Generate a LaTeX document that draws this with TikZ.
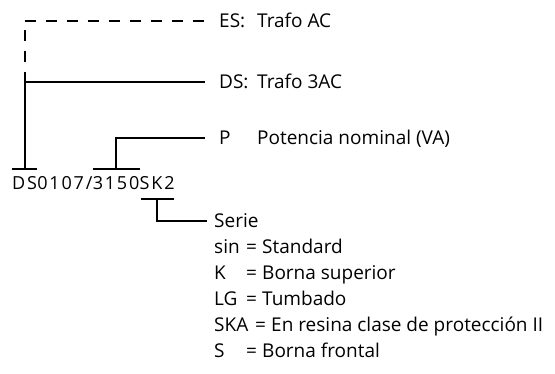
\documentclass[tikz,border=0pt]{standalone}
\usepackage{fontspec}
\setmainfont{Open Sans}
\newfontfamily\codefont[LetterSpace=10]{Open Sans}
\usetikzlibrary{positioning}
\tikzset{
  lbl/.style={anchor=west,inner sep=0pt,text height=13.6pt,text depth=0pt,
    font=\fontsize{19}{22}\selectfont},
  codepart/.style={inner sep=0pt,text height=21pt,text depth=9pt,
    font=\codefont\fontsize{18}{21}\selectfont},
  leader/.style={line width=2.2pt},
  dashleader/.style={leader,dash pattern=on 11pt off 10pt},
}

\begin{document}
\begin{tikzpicture}[x=1pt,y=-1pt]
  \useasboundingbox (0,0) rectangle (555,374);

  % Typenschluessel
  \node[codepart,anchor=base west] (cds) at (12,190) {DS};
  \node[codepart,right=0pt of cds] (cnum) {0107/};
  \node[codepart,right=0pt of cnum] (cpow) {3150};
  \node[codepart,right=0pt of cpow] (cser) {SK2};

  % Bedeutungen
  \node[lbl] (es) at (219,21) {ES:};
  \node[lbl] (estxt) at (257,21) {Trafo AC};
  \node[lbl] (ds) at (219,82) {DS:};
  \node[lbl] (dstxt) at (257,82) {Trafo 3AC};
  \node[lbl] (pw) at (219,138) {P};
  \node[lbl] (pwtxt) at (257,138) {Potencia nominal (VA)};
  \node[lbl] (serie) at (214,221) {Serie};
  \foreach \key/\desc/\dx [count=\i] in {sin/Standard/0, K/Borna superior/0,
      LG/Tumbado/0, SKA/En resina clase de protección II/9, S/Borna frontal/0}{
    \node[lbl] (key\i) at (214,221+26*\i) {\key};
    \node[lbl] (eq\i) at (246+\dx,221+26*\i) {=};
    \node[lbl] (desc\i) at (262+\dx,221+26*\i) {\desc};
  }

  % Klammern
  \draw[leader] (cds.north west) -- (cds.north east);
  \draw[leader] (cpow.north west) -- (cpow.north east);
  \draw[leader] ([xshift=1pt]cser.south west) -- ([xshift=-1pt]cser.south east);

  % Linien
  \draw[leader] (cds.north) -- (cds.north |- 0,72) coordinate (jds);
  \coordinate (ces) at (jds |- es.west);
  \draw[dashleader,dash phase=11pt] (jds) -- (ces);
  \draw[dashleader,shorten >=14pt] (ces) -- (es.west);
  \draw[leader,shorten >=14pt] (jds |- ds.west) -- (ds.west);
  \draw[leader,shorten >=14pt] (cpow.north) |- (pw.west);
  \draw[leader,shorten >=7pt] (cser.south) |- (serie.west);
\end{tikzpicture}
\end{document}
